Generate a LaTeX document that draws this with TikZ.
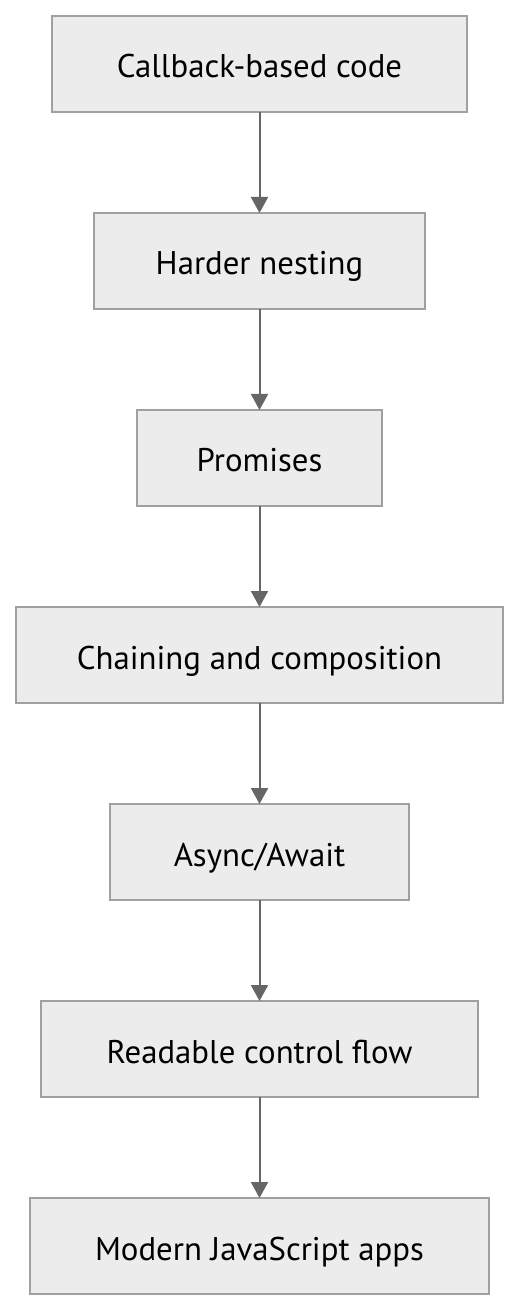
\documentclass[tikz,border=0pt]{standalone}
\usepackage{fontspec}
\setmainfont{PT Sans}
\usetikzlibrary{positioning,arrows.meta}
\definecolor{boxfill}{HTML}{ECECEC}
\definecolor{boxline}{HTML}{A0A0A0}
\definecolor{arrowline}{HTML}{666666}
\begin{document}
\begin{tikzpicture}[->,>={Triangle[length=8pt,width=8.5pt]},font=\fontsize{16.4}{19}\selectfont,node distance=50.5pt,
        stage/.style={draw=boxline,fill=boxfill,line width=1pt,minimum height=48pt,inner sep=0pt,outer sep=0pt,
            text height=14pt,text depth=0pt,text=black},
        flow/.style={draw=arrowline,line width=1pt}]
            \def\xmin{-129.75pt}
            \def\xmax{130.25pt}
            \def\ymin{-623pt}
            \def\ymax{32pt}
            \useasboundingbox (\xmin,\ymin) rectangle (\xmax,\ymax);

            \node[stage,minimum width=207.5pt] (callback) at (0,0) {Callback-based code};
            \node[stage,minimum width=165.5pt,below=of callback] (nesting) {Harder nesting};
            \node[stage,minimum width=122.5pt,below=of nesting] (promises) {Promises};
            \node[stage,minimum width=243.5pt,below=of promises] (chaining) {Chaining and composition};
            \node[stage,minimum width=149.5pt,below=of chaining] (async) {Async/Await};
            \node[stage,minimum width=218.5pt,below=of async] (readable) {Readable control flow};
            \node[stage,minimum width=229.5pt,below=of readable] (modern) {Modern JavaScript apps};

            \foreach \a/\b in {callback/nesting,nesting/promises,promises/chaining,chaining/async,async/readable,readable/modern}
                \draw[flow] (\a)--(\b);
        \end{tikzpicture}
\end{document}
